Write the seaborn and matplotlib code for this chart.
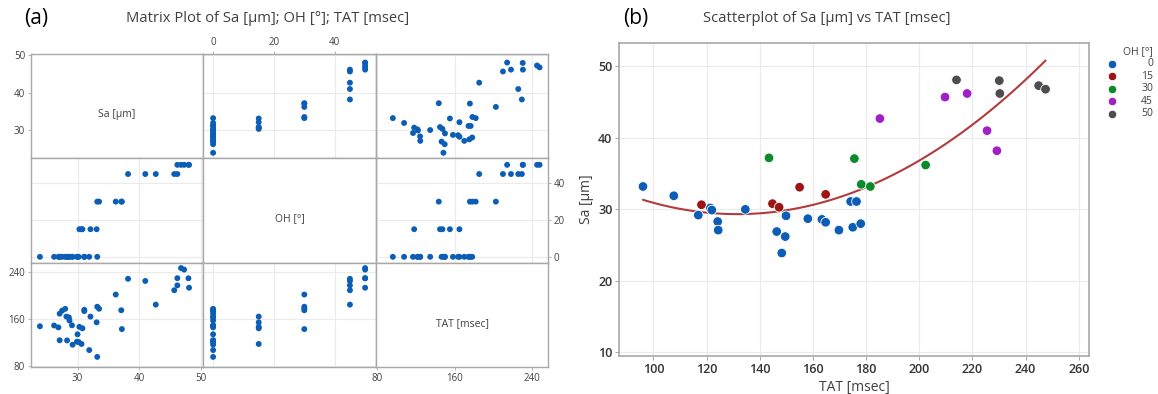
import numpy as np
import pandas as pd
import matplotlib
matplotlib.use("Agg")
import matplotlib.pyplot as plt
from matplotlib.lines import Line2D
import seaborn as sns

sns.set_theme(style="white")
plt.rcParams["font.family"] = ["Open Sans", "DejaVu Sans"]

# ---- measurements -------------------------------------------------------
tat = [96.1, 107.7, 116.9, 121.4, 122.0, 124.2, 124.4, 134.6, 146.4, 148.3,
       149.6, 149.9, 158.1, 163.4, 164.8, 169.8, 174.2, 175.0, 176.4, 178.0,
       118.1, 144.8, 147.3, 155.0, 164.8,
       143.5, 175.6, 178.2, 181.6, 202.4,
       185.2, 209.7, 218.0, 225.5, 229.2,
       214.0, 230.1, 230.3, 244.9, 247.5]
sa = [33.2, 31.9, 29.2, 30.2, 29.9, 28.3, 27.1, 30.0, 26.9, 23.9,
      26.2, 29.1, 28.7, 28.6, 28.2, 27.1, 31.1, 27.5, 31.1, 28.0,
      30.65, 30.8, 30.3, 33.1, 32.1,
      37.2, 37.1, 33.5, 33.2, 36.2,
      42.7, 45.7, 46.2, 41.0, 38.2,
      48.1, 48.0, 46.2, 47.3, 46.8]
oh = [0] * 20 + [15] * 5 + [30] * 5 + [45] * 5 + [50] * 5

oh_levels = [0, 15, 30, 45, 50]
oh_colors = ["#0B5DB5", "#9E1515", "#0A8A2A", "#A020C8", "#4D4D4D"]

df = pd.DataFrame({"Sa [µm]": sa, "OH [°]": oh, "TAT [msec]": tat})

TXT = "#404040"
FRAME = "#a8a8a8"
GRID = "#ebebeb"
POINT = "#0B5DB5"

W, H = 1158, 394
fig = plt.figure(figsize=(W / 100, H / 100), dpi=100)

# ---- (a) matrix plot ----------------------------------------------------
variables = ["Sa [µm]", "OH [°]", "TAT [msec]"]
limits = {"Sa [µm]": (22.4, 50.4), "OH [°]": (-3.25, 53.5), "TAT [msec]": (78.5, 256.5)}
ticks = {"Sa [µm]": [30, 40, 50], "OH [°]": [0, 20, 40], "TAT [msec]": [80, 160, 240]}

TICK_KW = dict(length=2.5, width=0.6, color=FRAME, labelsize=7, labelcolor=TXT, pad=1.5)

gs = fig.add_gridspec(3, 3, left=0.0265, right=0.4735, top=0.863, bottom=0.068,
                      wspace=0, hspace=0)
cells = {}
for r, yv in enumerate(variables):
    for c, xv in enumerate(variables):
        ax = fig.add_subplot(gs[r, c])
        cells[r, c] = ax
        ax.set_xlim(*limits[xv])
        ax.set_ylim(*limits[yv])
        for s in ax.spines.values():
            s.set_color(FRAME)
            s.set_linewidth(1.0)
        ax.set_xticks(ticks[xv])
        ax.set_yticks(ticks[yv])
        ax.tick_params(axis="both", bottom=False, top=False, left=False, right=False,
                       labelbottom=False, labeltop=False, labelleft=False,
                       labelright=False, **TICK_KW)
        if r == c:
            ax.text(0.5, 0.42, yv, transform=ax.transAxes, ha="center", va="center",
                    fontsize=7.5, color=TXT)
            continue
        ax.grid(True, color=GRID, linewidth=0.8)
        ax.set_axisbelow(True)
        sns.scatterplot(data=df, x=xv, y=yv, ax=ax, color=POINT, s=18,
                        edgecolor="none", legend=False)
        ax.set_xlabel("")
        ax.set_ylabel("")

# scales drawn on the outer edges: Sa left of row 0 / under column 0,
# OH over column 1 / right of row 1, TAT left of row 2 / under column 2
cells[0, 0].tick_params(axis="y", left=True, labelleft=True)
cells[2, 0].tick_params(axis="x", bottom=True, labelbottom=True)
cells[0, 1].tick_params(axis="x", top=True, labeltop=True)
cells[1, 2].tick_params(axis="y", right=True, labelright=True)
cells[2, 0].tick_params(axis="y", left=True, labelleft=True)
cells[2, 2].tick_params(axis="x", bottom=True, labelbottom=True)

fig.text(0.021, 0.952, "(a)", fontsize=15, color="black", ha="left", va="center")
fig.text(0.231, 0.953, "Matrix Plot of Sa [µm]; OH [°]; TAT [msec]", fontsize=10.6,
         color=TXT, ha="center", va="center")

# ---- (b) scatterplot with quadratic fit ---------------------------------
axb = fig.add_axes([0.5348, 0.0964, 0.9401 - 0.5348, 0.8916 - 0.0964])
axb.set_axisbelow(True)
axb.grid(True, color=GRID, linewidth=0.8)
palette = dict(zip(oh_levels, oh_colors))
sns.scatterplot(data=df, x="TAT [msec]", y="Sa [µm]", hue="OH [°]", palette=palette,
                hue_order=oh_levels, s=48, edgecolor="white", linewidth=0.6,
                ax=axb, zorder=3, legend=False)
sns.regplot(data=df, x="TAT [msec]", y="Sa [µm]", order=2, scatter=False, ci=None,
            ax=axb, color="#B23B3B", line_kws={"linewidth": 1.5, "zorder": 2})
axb.set_xlim(87.2, 263.7)
axb.set_ylim(9.5, 53.3)
axb.set_xticks(np.arange(100, 261, 20))
axb.set_yticks(np.arange(10, 51, 10))
for s in axb.spines.values():
    s.set_color(FRAME)
    s.set_linewidth(1.2)
axb.tick_params(axis="both", length=3, width=0.7, color=FRAME, labelsize=9,
                labelcolor="#333333", pad=2, bottom=True, left=True)
for t in axb.get_xticklabels() + axb.get_yticklabels():
    t.set_fontweight("semibold")
axb.set_xlabel("TAT [msec]", fontsize=10, color=TXT, labelpad=3)
axb.set_ylabel("Sa [µm]", fontsize=10, color=TXT, labelpad=3)

# legend key: markers on the left, values right-aligned under the title
key_right = 1153 / W
key_marker_x = 1112 / W
fig.text(key_right, 1 - 52 / H, "OH [°]", fontsize=7.5, color=TXT,
         ha="right", va="center")
for i, (lvl, col) in enumerate(zip(oh_levels, oh_colors)):
    yk = 1 - (64 + 12.4 * i) / H
    fig.add_artist(Line2D([key_marker_x], [yk], marker="o", markersize=6,
                          markerfacecolor=col, markeredgecolor="white",
                          markeredgewidth=0.5, linestyle="none",
                          transform=fig.transFigure))
    fig.text(key_right, yk, str(lvl), fontsize=7.5, color=TXT, ha="right", va="center")

fig.text(0.5379, 0.952, "(b)", fontsize=15, color="black", ha="left", va="center")
fig.text(0.714, 0.953, "Scatterplot of Sa [µm] vs TAT [msec]", fontsize=10.6,
         color=TXT, ha="center", va="center")

fig.savefig("out.png", dpi=100, facecolor="white")
